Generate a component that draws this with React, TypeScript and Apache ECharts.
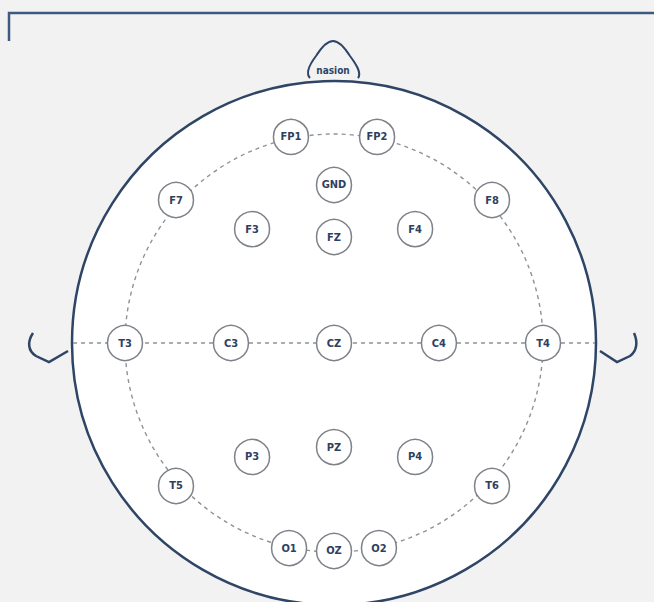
import React, { useEffect, useRef } from "react";
import * as echarts from "echarts";

// Electrode names and positions (units: inner dashed ring radius = 100, centre = CZ)
const electrodeNames = ["FP1", "FP2", "F7", "F8", "GND", "F3", "FZ", "F4", "T3", "C3", "CZ", "C4", "T4", "P3", "PZ", "P4", "T5", "T6", "O1", "OZ", "O2"];
const electrodeX = [-20.6, 20.6, -75.6, 75.6, 0, -39.2, 0, 38.8, -100, -49.3, 0, 50.2, 100, -39.2, 0, 38.8, -75.6, 75.6, -21.5, 0, 21.5];
const electrodeY = [98.6, 98.6, 68.4, 68.4, 75.6, 54.5, 50.7, 54.5, 0, 0, 0, 0, 0, -54.5, -49.8, -54.5, -68.4, -68.4, -98.1, -99.5, -98.1];

const headLabel = "nasion";

export default function App() {
  const ref = useRef<HTMLDivElement>(null);
  useEffect(() => {
    if (!ref.current) return;
    const chart = echarts.init(ref.current, undefined, { renderer: "svg" });
    const data = electrodeNames.map((n, i) => ({ name: n, value: [electrodeX[i], electrodeY[i]] }));
    const DARK = "#2e4566";
    const GREY = "#8d9299";
    chart.setOption({
      animation: false,
      backgroundColor: "#f2f2f2",
      grid: { left: 0, right: 0, top: 0, bottom: 0 },
      xAxis: { type: "value", min: -159.8, max: 153.1, show: false },
      yAxis: { type: "value", min: -123.9, max: 164.1, show: false },
      graphic: [
        {
          type: "polyline",
          shape: { points: [[9, 41], [9, 13], [654, 13]] },
          style: { stroke: "#3d5a80", lineWidth: 2.5, fill: "none" },
          silent: true,
        },
      ],
      series: [
        {
          type: "custom",
          silent: true,
          data: [[0, 0]],
          z: 1,
          renderItem: (params: any, api: any) => {
            const c = api.coord([0, 0]);
            const one = api.coord([100, 0]);
            const f = (one[0] - c[0]) / 209;
            return {
              type: "group",
              x: c[0],
              y: c[1],
              scaleX: f,
              scaleY: f,
              children: [
                {
                  type: "circle",
                  shape: { cx: 0, cy: 0, r: 262 },
                  style: { fill: "#ffffff", stroke: DARK, lineWidth: 2.5 },
                },
                {
                  type: "circle",
                  shape: { cx: 0, cy: 0, r: 209 },
                  style: { fill: "none", stroke: GREY, lineWidth: 1.4, lineDash: [4, 4] },
                },
                {
                  type: "line",
                  shape: { x1: -261, y1: 0, x2: 261, y2: 0 },
                  style: { stroke: GREY, lineWidth: 1.4, lineDash: [4, 4] },
                },
                {
                  type: "path",
                  shape: {
                    pathData:
                      "M -24 -265 C -29 -270 -24 -279 -18 -287 C -11 -298 -6 -302 -1 -302 C 4 -302 9 -298 16 -287 C 22 -279 28 -270 24 -265",
                  },
                  style: { fill: "none", stroke: DARK, lineWidth: 2 },
                },
                {
                  type: "text",
                  x: -1,
                  y: -272,
                  style: {
                    text: headLabel,
                    fill: DARK,
                    font: "bold 10px 'DejaVu Sans Condensed', Roboto",
                    align: "center",
                    verticalAlign: "middle",
                  },
                },
                {
                  type: "path",
                  shape: { pathData: "M -301 -10 C -307 -1 -306 8 -298 13 L -285 19 L -266 8" },
                  style: { fill: "none", stroke: DARK, lineWidth: 2.5 },
                },
                {
                  type: "path",
                  shape: { pathData: "M 266 8 L 283 19 L 296 13 C 303 8 304 -1 300 -10" },
                  style: { fill: "none", stroke: DARK, lineWidth: 2.5 },
                },
              ],
            };
          },
        },
        {
          type: "scatter",
          z: 3,
          data,
          symbol: "circle",
          symbolSize: 35,
          itemStyle: { color: "#ffffff", borderColor: "#7d8289", borderWidth: 1.5, opacity: 1 },
          label: {
            show: true,
            position: "inside",
            formatter: "{b}",
            color: "#2e4060",
            fontWeight: "bold",
            fontSize: 11,
            fontFamily: "'DejaVu Sans Condensed', Roboto",
          },
          emphasis: { disabled: true },
        },
      ],
    });
    return () => chart.dispose();
  }, []);
  return <div ref={ref} style={{ position: "fixed", left: 0, top: 0, width: 654, height: 602 }} />;
}
